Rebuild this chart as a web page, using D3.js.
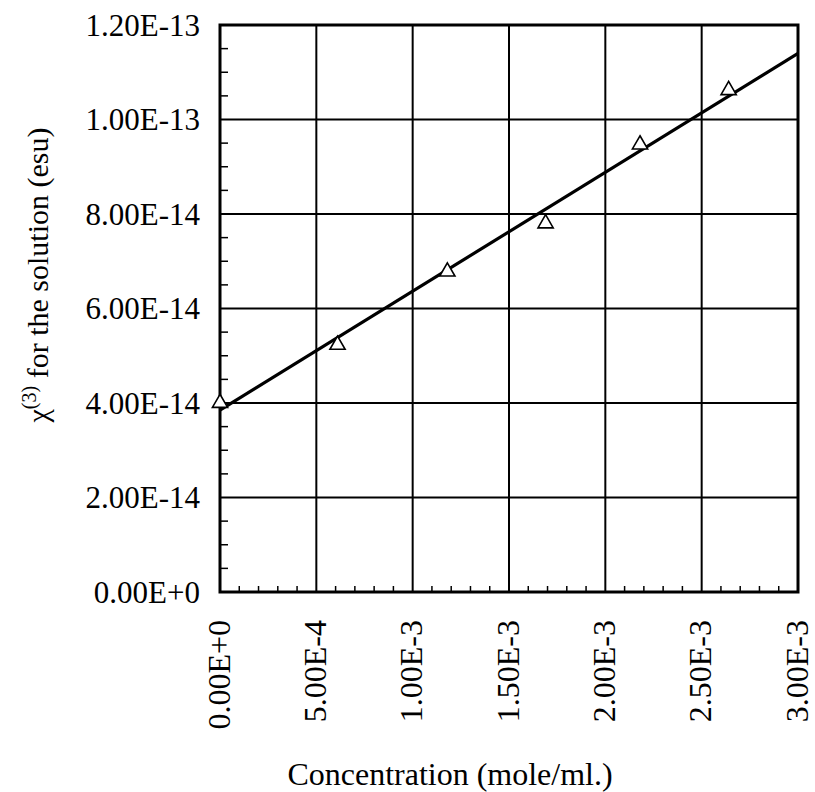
<!DOCTYPE html>
<html><head><meta charset="utf-8">
<script src="https://cdn.jsdelivr.net/npm/d3@7"></script>
<style>html,body{margin:0;padding:0;background:#fff;}</style>
</head><body>
<svg id="c" width="815" height="792"></svg>
<script>
// Data
const concentration = [0, 0.61e-3, 1.18e-3, 1.69e-3, 2.18e-3, 2.64e-3];
const chi3 = [4.0e-14, 5.23e-14, 6.78e-14, 7.80e-14, 9.47e-14, 1.062e-13];
const fitX = [0, 3.0e-3];
const fitY = [3.85e-14, 1.14e-13];
const xTicks = [0, 5e-4, 1e-3, 1.5e-3, 2e-3, 2.5e-3, 3e-3];
const xTickLabels = ["0.00E+0","5.00E-4","1.00E-3","1.50E-3","2.00E-3","2.50E-3","3.00E-3"];
const yTicks = [0, 2e-14, 4e-14, 6e-14, 8e-14, 1e-13, 1.2e-13];
const yTickLabels = ["0.00E+0","2.00E-14","4.00E-14","6.00E-14","8.00E-14","1.00E-13","1.20E-13"];
const xTitle = "Concentration (mole/ml.)";

const svg = d3.select("#c");
const L = 220, R = 798, T = 25, B = 592;
const x = d3.scaleLinear().domain([0, 3e-3]).range([L, R]);
const y = d3.scaleLinear().domain([0, 1.2e-13]).range([B, T]);
const font = "'Liberation Serif','Times New Roman',serif";

// gridlines
const g = svg.append("g");
g.selectAll(".vg").data(xTicks.slice(1, -1)).enter().append("line")
  .attr("x1", d => x(d)).attr("x2", d => x(d)).attr("y1", T).attr("y2", B)
  .attr("stroke", "#000").attr("stroke-width", 2);
g.selectAll(".hg").data(yTicks.slice(1, -1)).enter().append("line")
  .attr("y1", d => y(d)).attr("y2", d => y(d)).attr("x1", L).attr("x2", R)
  .attr("stroke", "#000").attr("stroke-width", 2);

// minor ticks
const xMinor = d3.range(0, 30).map(i => i * 1e-4).filter((d, i) => i % 5 !== 0);
const yMinor = d3.range(0, 24).map(i => i * 5e-15).filter((d, i) => i % 4 !== 0);
g.selectAll(".xm").data(xMinor).enter().append("line")
  .attr("x1", d => x(d)).attr("x2", d => x(d)).attr("y1", B).attr("y2", B - 6)
  .attr("stroke", "#000").attr("stroke-width", 1.5);
g.selectAll(".ym").data(yMinor).enter().append("line")
  .attr("y1", d => y(d)).attr("y2", d => y(d)).attr("x1", L).attr("x2", L + 8)
  .attr("stroke", "#000").attr("stroke-width", 1.5);

// frame
svg.append("rect").attr("x", L).attr("y", T).attr("width", R - L).attr("height", B - T)
  .attr("fill", "none").attr("stroke", "#000").attr("stroke-width", 3);

// fit line
svg.append("path")
  .attr("d", d3.line().x(d => x(d[0])).y(d => y(d[1]))(fitX.map((v, i) => [v, fitY[i]])))
  .attr("stroke", "#000").attr("stroke-width", 3.2).attr("fill", "none");

// points
svg.selectAll(".pt").data(concentration.map((v, i) => [v, chi3[i]])).enter().append("path")
  .attr("transform", d => `translate(${x(d[0])},${y(d[1])})`)
  .attr("d", d3.symbol().type(d3.symbolTriangle).size(100)())
  .attr("fill", "#fff").attr("stroke", "#000").attr("stroke-width", 1.6);

// y tick labels
svg.selectAll(".yl").data(yTicks).enter().append("text")
  .attr("x", 200).attr("y", d => y(d)).attr("dy", "0.34em")
  .attr("text-anchor", "end").attr("font-family", font).attr("font-size", 31)
  .text((d, i) => yTickLabels[i]);

// x tick labels
svg.selectAll(".xl").data(xTicks).enter().append("text")
  .attr("transform", d => `translate(${x(d)},620) rotate(-90)`)
  .attr("dy", "0.3em")
  .attr("text-anchor", "end").attr("font-family", font).attr("font-size", 32)
  .text((d, i) => xTickLabels[i]);

// x title
svg.append("text").attr("x", 450).attr("y", 785).attr("text-anchor", "middle")
  .attr("font-family", font).attr("font-size", 32).text(xTitle);

// y title
const yt = svg.append("text").attr("transform", "translate(48,275) rotate(-90)")
  .attr("text-anchor", "middle").attr("font-family", font).attr("font-size", 30);
yt.append("tspan").text("\u03C7");
yt.append("tspan").attr("font-size", 20).attr("dy", -12).text("(3)");
yt.append("tspan").attr("dy", 12).text(" for the solution (esu)");
</script>
</body></html>
